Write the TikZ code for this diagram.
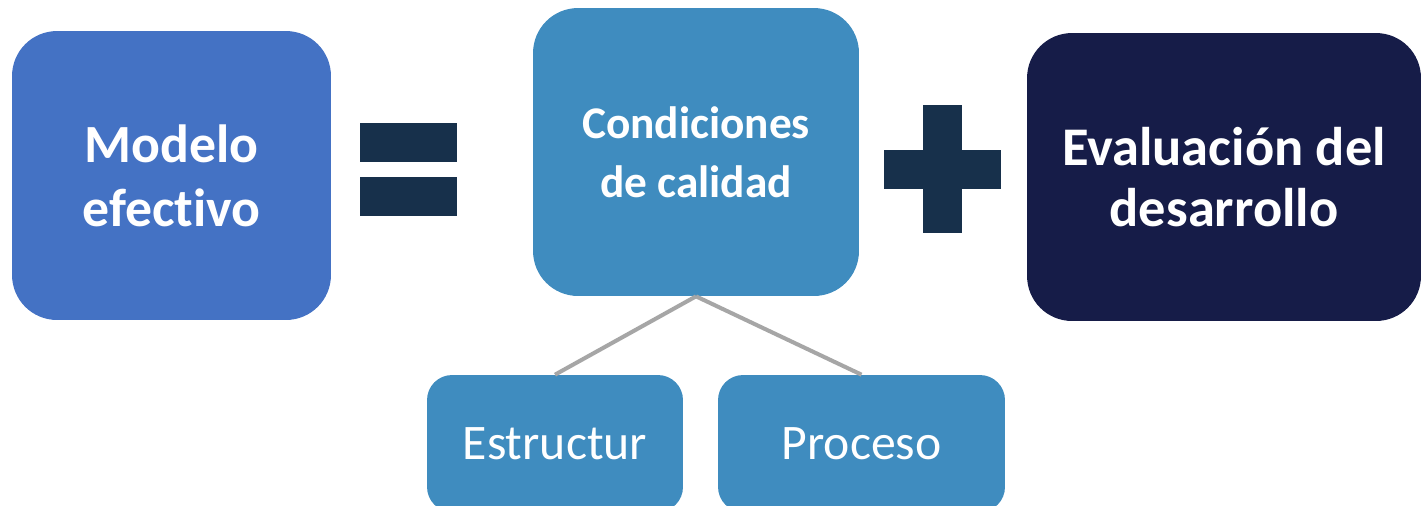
\documentclass[tikz,border=0pt]{standalone}
\usepackage{fontspec}
\setmainfont[Ligatures=NoCommon]{Carlito}
\usepackage{tikz}
\usetikzlibrary{positioning}

\definecolor{modeloblue}{HTML}{4472C4}
\definecolor{calidadblue}{HTML}{3F8CBF}
\definecolor{signnavy}{HTML}{17304B}
\definecolor{evalnavy}{HTML}{161C48}
\definecolor{linkgray}{HTML}{A6A6A6}

\begin{document}
\begin{tikzpicture}[
    x=0.02cm, y=-0.02cm,
    bigbox/.style={rectangle, rounded corners=0.9cm, text=white, align=center, inner sep=0pt,
      font=\bfseries\fontsize{30.6pt}{36.5pt}\selectfont},
    subbox/.style={rectangle, rounded corners=0.5cm, fill=calidadblue, text=white,
      minimum height=2.74cm, inner sep=0pt, font=\fontsize{28.3pt}{34pt}\selectfont},
    sign/.style={fill=signnavy},
    link/.style={draw=linkgray, line width=2.3pt}
  ]
  \useasboundingbox (0,0) rectangle (1422,505);

  % Left box
  \node[bigbox, fill=modeloblue, minimum width=6.38cm, minimum height=5.78cm]
    (modelo) at (171.5,175.5) {Modelo\\efectivo};

  % Equals sign
  \fill[sign] (360,123) rectangle (457,162);
  \fill[sign] (360,177) rectangle (457,216);

  % Middle box
  \node[bigbox, fill=calidadblue, minimum width=6.52cm, minimum height=5.76cm,
    font=\bfseries\fontsize{25.8pt}{33.5pt}\selectfont]
    (calidad) at (696,152) {Condiciones\\de calidad};

  % Plus sign
  \fill[sign] (923,105) rectangle (962,233);
  \fill[sign] (884,150) rectangle (1001,189);

  % Right box
  \node[bigbox, fill=evalnavy, minimum width=7.88cm, minimum height=5.76cm,
    font=\bfseries\fontsize{31pt}{35pt}\selectfont]
    (evaluacion) at (1224,177) {Evaluación del\\desarrollo};

  % Children of the middle box
  \node[subbox, minimum width=5.12cm] (estructura) at (555,443.5) {Estructur};
  \node[subbox, minimum width=5.74cm] (proceso) at (861.5,443.5) {Proceso};

  \draw[link] (calidad.south) -- (estructura.north);
  \draw[link] (calidad.south) -- (proceso.north);

\end{tikzpicture}
\end{document}
